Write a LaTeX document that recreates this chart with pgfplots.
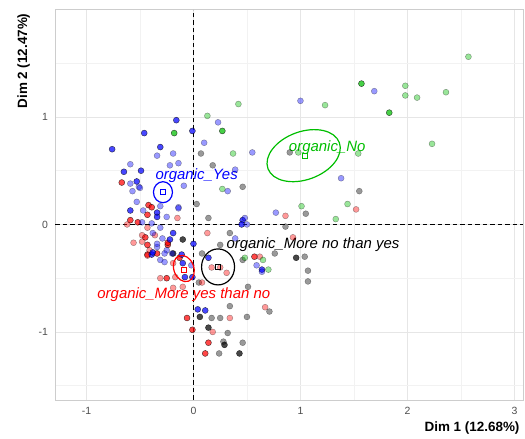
\documentclass[border=0pt]{standalone}
\usepackage{pgfplots}
\pgfplotsset{compat=1.18}
\usepackage{fontspec}
\setmainfont{Liberation Sans}
\definecolor{cblue}{RGB}{0,0,255}
\definecolor{cred}{RGB}{255,0,0}
\definecolor{cgreen}{RGB}{0,190,0}
\definecolor{gridmaj}{RGB}{230,230,230}
\definecolor{gridmin}{RGB}{242,242,242}
\definecolor{bordercol}{RGB}{205,205,205}
\definecolor{ticklab}{RGB}{77,77,77}
\pgfplotsset{
  dark/.style={only marks, mark=*, mark size=3bp, mark options={draw=none, fill=#1, opacity=0.72}},
  light/.style={only marks, mark=*, mark size=3bp, mark options={draw=none, fill=#1, opacity=0.4}},
}
\begin{document}
\begin{tikzpicture}
\begin{axis}[
  scale only axis, width=468bp, height=390bp,
  xmin=-1.294, xmax=3.08, ymin=-1.633, ymax=1.995,
  xtick={-1,0,1,2,3}, ytick={-1,0,1},
  minor xtick={-0.5,0.5,1.5,2.5}, minor ytick={-1.5,-0.5,0.5,1.5},
  grid=both,
  major grid style={draw=gridmaj, line width=0.8bp},
  minor grid style={draw=gridmin, line width=0.5bp},
  axis line style={draw=bordercol, line width=1bp},
  major tick length=0pt, minor tick length=0pt,
  tick label style={font=\fontsize{10.5}{12}\selectfont, text=ticklab},
  /pgf/number format/assume math mode=true,
  xticklabel style={yshift=-4bp},
  yticklabel style={xshift=-3.5bp},
  xlabel={Dim 1 (12.68\%)}, ylabel={Dim 2 (12.47\%)},
  label style={font=\fontsize{13.5}{16}\selectfont\bfseries},
  xlabel style={at={(ticklabel cs:1)}, anchor=north east},
  ylabel style={at={(ticklabel cs:1,2bp)}, anchor=south east, yshift=0bp},
]
\coordinate (sw) at (rel axis cs:0,0);
% grey (black with alpha)
\addplot[dark=black] coordinates {(0.96,-0.31) (0.06,-0.86) (0.14,-0.96) (0.29,-1.12) (0.43,-1.20) (-0.10,-0.14) (-0.19,-0.27)};
\addplot[light=black] coordinates {(0.90,0.67) (1.55,0.31) (1.05,0.10) (0.07,0.66) (0.18,0.55) (0.46,0.35) (0.03,0.19) (0.14,0.06) (0.86,-0.02) (0.34,-0.08) (0.25,-0.19) (0.76,-0.27) (1.04,-0.30) (0.08,-0.27) (0.46,-0.33) (0.34,-0.76) (0.17,-0.87) (0.25,-0.87) (0.50,-0.86) (0.32,-1.01) (0.28,-1.09) (0.46,-1.10) (0.24,-1.20) (0.51,-0.58) (0.71,-0.81) (1.07,-0.43) (1.07,-0.53) (0.05,-0.54)};
% red
\addplot[dark=cred] coordinates {(-0.67,0.39) (-0.42,0.18) (-0.39,0.16) (-0.43,0.09) (-0.59,0.04) (-0.52,0.02) (-0.45,-0.12) (-0.24,-0.19) (-0.43,-0.28) (-0.13,-0.31) (-0.43,-0.19) (-0.24,-0.17) (-0.34,-0.27) (-0.25,-0.50) (0.57,-0.30) (-0.06,-0.87) (-0.01,-0.98) (0.14,-1.10) (0.11,-1.20)};
\addplot[light=cred] coordinates {(1.52,0.14) (0.86,0.08) (-0.15,0.06) (-0.62,0.00) (-0.43,-0.03) (-0.36,-0.10) (-0.48,-0.16) (-0.56,-0.17) (-0.41,-0.24) (-0.48,-0.10) (-0.43,-0.29) (0.13,-0.08) (-0.19,-0.36) (-0.31,-0.50) (-0.17,-0.49) (-0.19,-0.59) (-0.10,-0.58) (0.17,-0.40) (0.25,-0.40) (0.31,-0.45) (0.08,-0.54) (0.34,-0.87) (0.18,-1.00) (0.62,-0.30) (0.93,-0.12) (0.67,-0.77)};
% green
\addplot[dark=cgreen] coordinates {(1.57,1.31) (1.83,1.04) (0.27,0.87) (-0.18,0.85)};
\addplot[light=cgreen] coordinates {(2.57,1.56) (1.98,1.29) (1.98,1.20) (2.09,1.18) (2.36,1.23) (2.23,0.75) (1.23,1.11) (1.54,0.66) (1.44,0.19) (1.01,0.17) (1.33,0.05) (0.42,1.12) (0.13,1.01) (0.37,0.66) (0.27,0.33) (0.65,-0.33) (0.70,-0.42) (0.48,-0.31) (0.98,0.67)};
% blue
\addplot[dark=cblue] coordinates {(-0.76,0.70) (-0.31,0.72) (-0.65,0.49) (-0.49,0.50) (-0.16,0.97) (-0.01,0.87) (-0.46,0.85) (-0.53,0.40) (-0.59,0.13) (-0.34,0.11) (-0.34,0.07) (0.46,0.04) (0.45,0.00) (-0.22,-0.14) (-0.39,-0.28) (-0.19,-0.08) (-0.38,-0.26) (-0.11,-0.28) (-0.10,-0.36) (-0.08,-0.49) (-0.01,-0.49) (0.14,-0.31) (0.00,-0.18) (0.64,-0.42) (0.04,-0.79) (0.11,-0.80)};
\addplot[light=cblue] coordinates {(1.69,1.24) (1.00,1.15) (1.38,0.43) (0.77,0.11) (0.23,0.95) (0.10,0.76) (-0.34,0.64) (-0.19,0.66) (0.55,0.67) (-0.14,0.57) (-0.22,0.55) (-0.59,0.56) (0.39,0.51) (-0.59,0.38) (-0.09,0.36) (-0.57,0.31) (-0.51,0.35) (0.32,0.31) (-0.53,0.21) (-0.47,0.13) (-0.31,0.17) (-0.14,0.16) (0.48,0.06) (-0.50,0.34) (-0.25,0.07) (-0.14,0.15) (-0.48,0.02) (-0.39,0.01) (-0.31,-0.03) (-0.29,-0.13) (-0.34,-0.21) (-0.25,-0.24) (-0.31,-0.33) (-0.20,-0.27) (0.50,0.00) (0.39,-0.13) (-0.38,-0.08) (-0.34,-0.18) (-0.27,-0.27) (-0.02,-0.38) (-0.27,-0.35) (0.59,-0.38) (0.64,-0.44)};
% reference lines
\addplot[black, line width=1.1bp, dash pattern=on 4.5bp off 3bp] coordinates {(0,-1.633) (0,1.995)};
\addplot[black, line width=1.1bp, dash pattern=on 4.5bp off 3bp] coordinates {(-1.294,0) (3.08,0)};
% confidence ellipses
\addplot[only marks, mark=o, mark size=1bp, mark options={draw=cblue, line width=1.2bp, xscale=9.5, yscale=10.5}] coordinates {(-0.285,0.30)};
\addplot[only marks, mark=o, mark size=1bp, mark options={draw=cgreen, line width=1.2bp, rotate=20, xscale=38, yscale=24}] coordinates {(1.03,0.64)};
\addplot[only marks, mark=o, mark size=1bp, mark options={draw=black, line width=1.2bp, xscale=16.5, yscale=18}] coordinates {(0.23,-0.395)};
\addplot[only marks, mark=o, mark size=1bp, mark options={draw=cred, line width=1.2bp, rotate=20, xscale=10, yscale=13.5}] coordinates {(-0.09,-0.41)};
% centroids
\addplot[only marks, mark=square, mark size=2.6bp, mark options={draw=cblue, line width=0.9bp}] coordinates {(-0.285,0.30)};
\addplot[only marks, mark=square, mark size=2.6bp, mark options={draw=cgreen, line width=0.9bp}] coordinates {(1.04,0.64)};
\addplot[only marks, mark=square, mark size=2.6bp, mark options={draw=black, line width=0.9bp}] coordinates {(0.23,-0.395)};
\addplot[only marks, mark=square, mark size=2.6bp, mark options={draw=cred, line width=0.9bp}] coordinates {(-0.09,-0.425)};
% labels
\node[font=\fontsize{15}{18}\selectfont\itshape, text=cblue] at (axis cs:0.03,0.456) {organic\_Yes};
\node[font=\fontsize{15}{18}\selectfont\itshape, text=cgreen] at (axis cs:1.25,0.71) {organic\_No};
\node[font=\fontsize{15}{18}\selectfont\itshape, text=black] at (axis cs:1.117,-0.19) {organic\_More no than yes};
\node[font=\fontsize{15}{18}\selectfont\itshape, text=cred] at (axis cs:-0.09,-0.656) {organic\_More yes than no};
\end{axis}
\pgfresetboundingbox
\path (sw) ++(-55bp,-39bp) rectangle ++(525bp,439bp);
\end{tikzpicture}
\end{document}
